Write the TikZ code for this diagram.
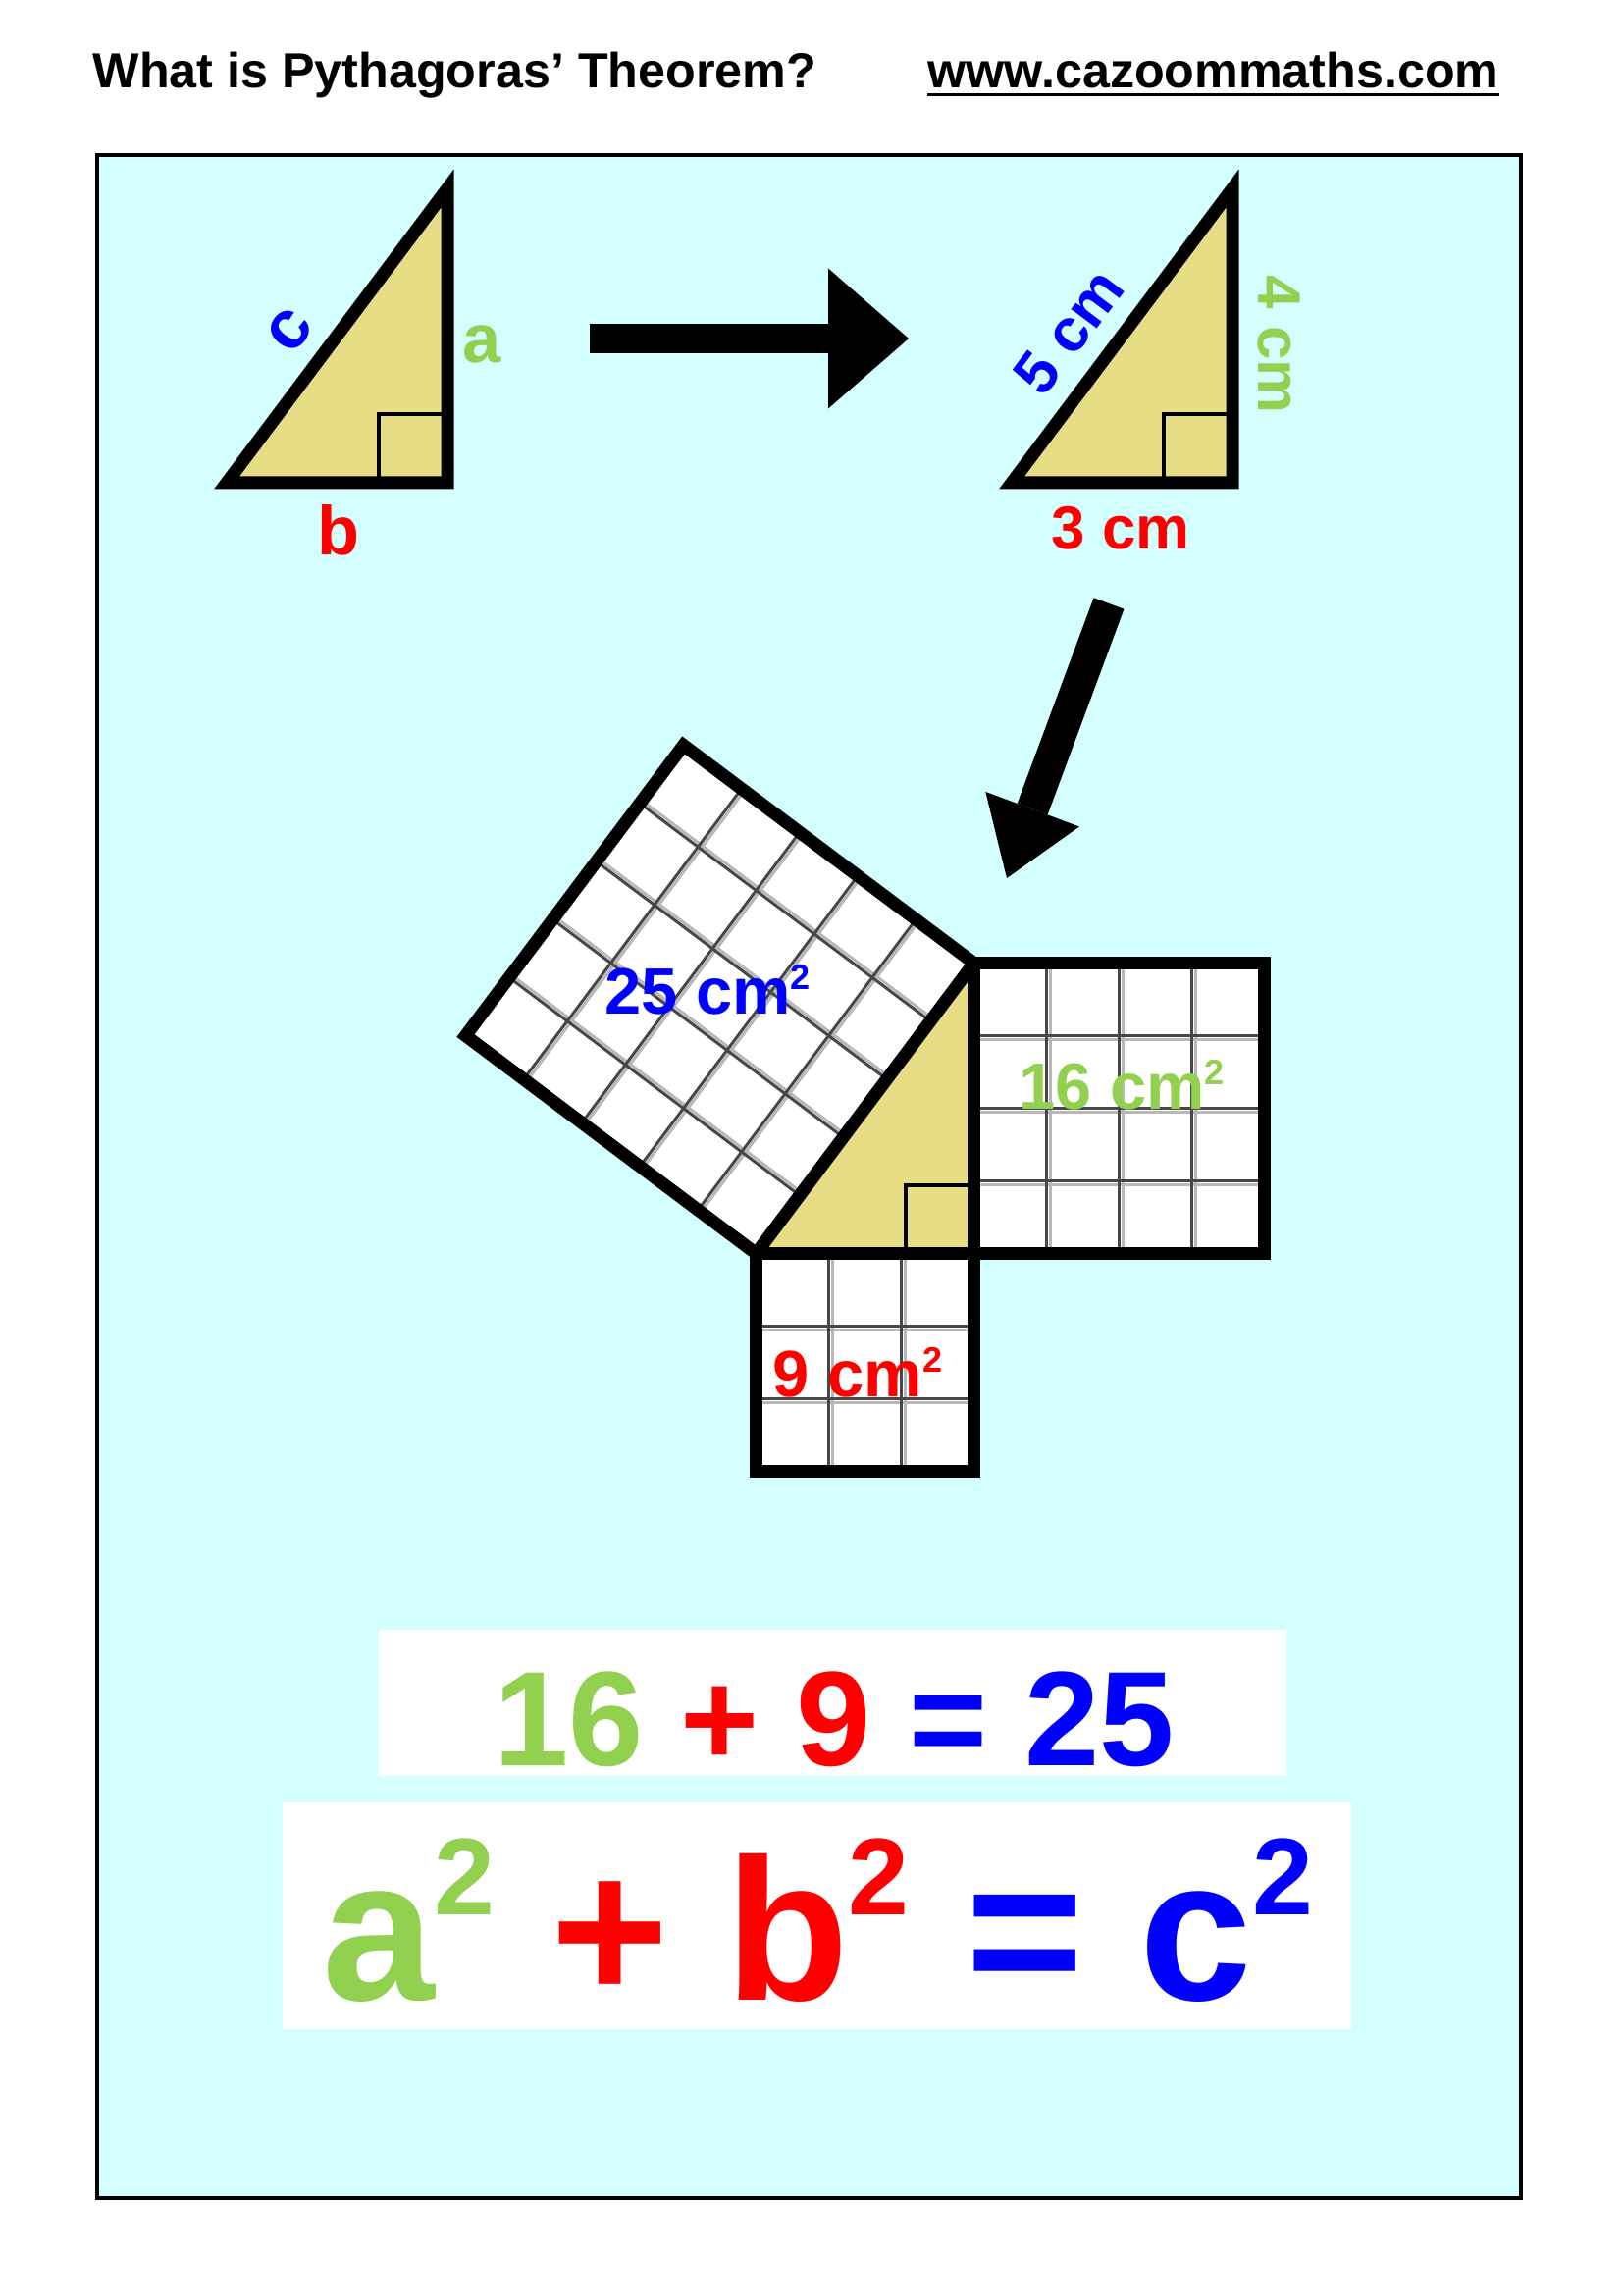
\documentclass[tikz,border=0pt]{standalone}
\usepackage{fontspec}
\setmainfont{Liberation Sans}
\usetikzlibrary{calc,arrows.meta}

\definecolor{pgreen}{RGB}{146,208,80}
\definecolor{pred}{RGB}{255,0,0}
\definecolor{pblue}{RGB}{0,0,255}
\definecolor{khaki}{RGB}{230,221,132}
\definecolor{paleblue}{RGB}{212,255,255}

\newcommand{\sqd}[1][.37em]{\raisebox{#1}{\scalebox{.54}{2}}}

\begin{document}
\begin{tikzpicture}[
  bold edge/.style={line width=0.13cm, line join=miter},
  anglemark/.style={line width=0.04cm},
  cellline/.style={draw=black!72, line width=0.03cm},
  cellshade/.style={draw=black!28, line width=0.03cm},
  lbl/.style={inner sep=0pt, font=\bfseries\fontsize{20}{24}\selectfont},
  lblcm/.style={inner sep=0pt, font=\bfseries\fontsize{17.6}{21}\selectfont},
  arealbl/.style={inner sep=0pt, anchor=base, font=\bfseries\fontsize{19}{23}\selectfont},
  headtxt/.style={inner sep=0pt, anchor=base west, font=\bfseries\fontsize{14.3}{17}\selectfont}
]

\useasboundingbox (0,0) rectangle (16.54,-23.39);
\fill[white] (0,0) rectangle (16.54,-23.39);

\node[headtxt] (title) at (0.94,-0.90) {What is Pythagoras’ Theorem?};
\node[headtxt] (url) at (9.45,-0.90) {www.cazoommaths.com};
\draw[line width=0.025cm] ([yshift=-0.065cm]url.base west) -- ([yshift=-0.065cm]url.base east);

\filldraw[fill=paleblue, line width=0.04cm] (0.99,-1.58) rectangle (15.50,-22.40);


\coordinate (R1) at (4.56,-4.92);
\coordinate (B1) at ($(R1) + (-2.25,0)$);
\coordinate (A1) at ($(R1) + (0,3)$);

\coordinate (R2) at (12.56,-4.92);
\coordinate (B2) at ($(R2) + (-2.25,0)$);
\coordinate (A2) at ($(R2) + (0,3)$);

\filldraw[fill=khaki, bold edge] (B1) -- (R1) -- (A1) -- cycle;
\draw[anglemark] ($(R1) + (-0.7,0)$) -- ++(0,0.7) -- ++(0.7,0);

\filldraw[fill=khaki, bold edge] (B2) -- (R2) -- (A2) -- cycle;
\draw[anglemark] ($(R2) + (-0.7,0)$) -- ++(0,0.7) -- ++(0.7,0);

\node[lbl, pblue, rotate=53.13] (c) at ($(R1) + (-1.61,1.55)$) {c};
\node[lbl, pgreen] (a) at ($(R1) + (0.35,1.41)$) {a};
\node[lbl, pred] (b) at ($(R1) + (-1.11,-0.48)$) {b};

\node[lblcm, pblue, rotate=53.13] (c2) at ($(R2) + (-1.67,1.54)$) {5 cm};
\node[lblcm, pgreen, rotate=-90] (a2) at ($(R2) + (0.47,1.41)$) {4 cm};
\node[lblcm, pred] (b2) at ($(R2) + (-1.14,-0.46)$) {3 cm};


\coordinate (p1) at (6.01,-3.45);
\coordinate (q1) at (9.26,-3.45);
\draw[line width=0.30cm, -{Triangle[length=0.82cm, width=1.43cm, line width=0pt]}] (p1) -- (q1);

\coordinate (p2) at (11.30,-6.15);
\coordinate (q2) at (10.26,-8.95);
\draw[line width=0.33cm, -{Triangle[length=0.75cm, width=1.02cm, line width=0pt]}] (p2) -- (q2);


\coordinate (R3) at (9.925,-12.775);
\coordinate (B3) at ($(R3) + (-2.22,0)$);
\coordinate (A3) at ($(R3) + (0,2.96)$);
\coordinate (C3) at ($(B3) + (-2.96,2.22)$);
\coordinate (D3) at ($(A3) + (-2.96,2.22)$);
\coordinate (E3) at ($(R3) + (0,-2.22)$);
\coordinate (F3) at ($(B3) + (0,-2.22)$);
\coordinate (G3) at ($(R3) + (2.96,0)$);
\coordinate (H3) at ($(A3) + (2.96,0)$);

\fill[white] (B3) -- (A3) -- (D3) -- (C3) -- cycle;
\draw[cellshade, shift={(B3)}, rotate=53.13, shift={(0.035,-0.035)}] (0,0) grid[step=0.74] (3.7,3.7);
\draw[cellline, shift={(B3)}, rotate=53.13] (0,0) grid[step=0.74] (3.7,3.7);

\fill[white] (F3) rectangle (R3);
\draw[cellshade, shift={(F3)}, shift={(0.035,-0.035)}] (0,0) grid[step=0.74] (2.22,2.22);
\draw[cellline, shift={(F3)}] (0,0) grid[step=0.74] (2.22,2.22);

\fill[white] (R3) rectangle (H3);
\draw[cellshade, shift={(R3)}, shift={(0.035,-0.035)}] (0,0) grid[step=0.74] (2.96,2.96);
\draw[cellline, shift={(R3)}] (0,0) grid[step=0.74] (2.96,2.96);

\fill[khaki] (B3) -- (R3) -- (A3) -- cycle;
\draw[anglemark] ($(R3) + (-0.7,0)$) -- ++(0,0.7) -- ++(0.7,0);

\draw[bold edge] (B3) -- (A3) -- (D3) -- (C3) -- cycle;
\draw[bold edge] (B3) -- (R3) -- (E3) -- (F3) -- cycle;
\draw[bold edge] (R3) -- (G3) -- (H3) -- (A3) -- cycle;

\node[arealbl, pblue] (s25) at (7.21,-10.33) {25 cm\sqd};
\node[arealbl, pgreen] (s16) at (11.43,-11.30) {16 cm\sqd};
\node[arealbl, pred] (s9) at (8.74,-14.23) {9 cm\sqd};


\fill[white] (3.86,-16.61) rectangle (13.11,-18.10);
\fill[white] (2.88,-18.37) rectangle (13.77,-20.68);

\node[inner sep=0pt, anchor=base, font=\bfseries\fontsize{39}{44}\selectfont] (sum) at (8.50,-17.99)
  {\textcolor{pgreen}{16} \textcolor{pred}{+ 9} \textcolor{pblue}{= 25}};
\node[inner sep=0pt, anchor=base, font=\bfseries\fontsize{58.6}{66}\selectfont] (rule) at (8.33,-20.38)
  {\textcolor{pgreen}{a\sqd[.42em]} \textcolor{pred}{+ b\sqd[.42em]} \textcolor{pblue}{= c\sqd[.42em]}};

\end{tikzpicture}
\end{document}
